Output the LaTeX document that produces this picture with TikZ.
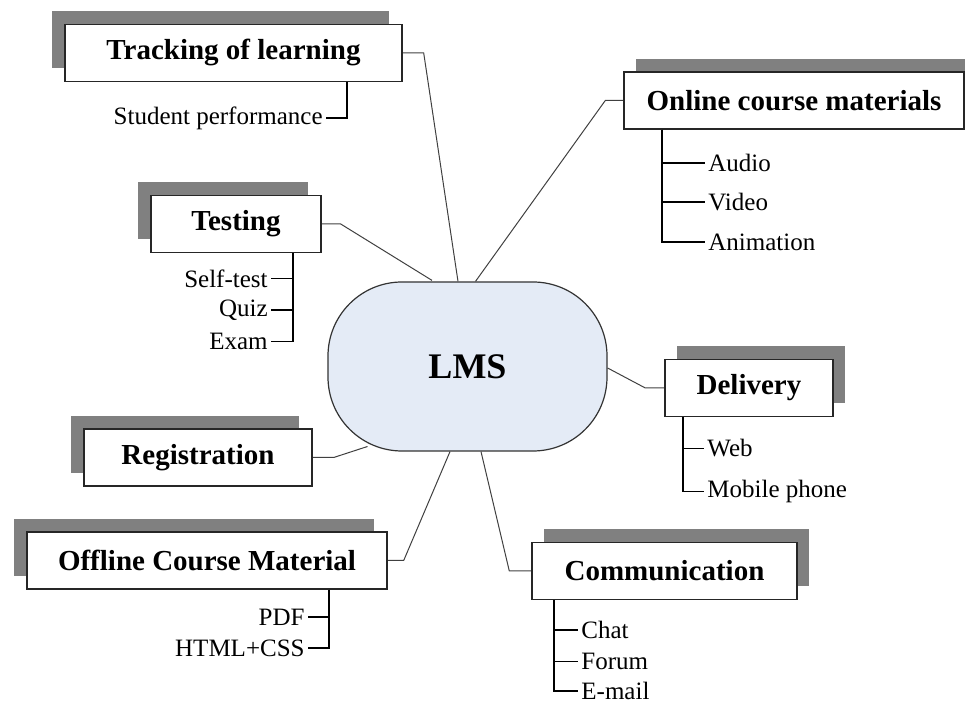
\documentclass[tikz,border=0pt]{standalone}
\usepackage{fontspec}
\setmainfont{Liberation Serif}
\usetikzlibrary{shadows,calc,backgrounds}
\definecolor{lmsblue}{RGB}{228,235,246}

\begin{document}
\begin{tikzpicture}[x=0.5pt,y=-0.5pt,
  topic/.style = {shape=rectangle, draw=black!85, line width=0.7pt, fill=white,
    minimum width=#1, minimum height=28.5pt, inner sep=0pt,
    font=\fontsize{14.5}{16}\selectfont\bfseries},
  shadowleft/.style = {drop shadow={shadow xshift=-6.5pt, shadow yshift=6.5pt, fill=black!50, opacity=1}},
  shadowright/.style = {drop shadow={shadow xshift=6pt, shadow yshift=6.5pt, fill=black!50, opacity=1}},
  hub/.style = {shape=rectangle, rounded corners=37pt, draw=black!80, line width=0.6pt,
    fill=lmsblue, minimum width=139.5pt, minimum height=84.5pt,
    font=\fontsize{18}{20}\selectfont\bfseries},
  item/.style = {inner sep=1.5pt, font=\fontsize{12.5}{14}\selectfont},
  link/.style = {draw=black!75, line width=0.5pt},
  twig/.style = {draw=black, line width=0.6pt}
  ]
  \useasboundingbox (0,0) rectangle (965,704);

  \node[hub] (lms) at (467.5,366.5) {LMS};

  \node[topic=168.5pt, shadowleft] (trk) at (233.5,53) {Tracking of learning};
  \node[topic=85pt, shadowleft] (tst) at (236,224) {Testing};
  \node[topic=114pt, shadowleft] (reg) at (198,457.5) {Registration};
  \node[topic=180pt, shadowleft] (off) at (207,560.5) {Offline Course Material};
  \node[topic=170pt, shadowright] (onl) at (794,100.5) {Online course materials};
  \node[topic=84pt, shadowright] (dlv) at (749,388) {Delivery};
  \node[topic=132.5pt, shadowright] (com) at (664.5,571) {Communication};

  \begin{scope}[on background layer]
    \draw[link] (trk.east) -- ++(21,0) -- ($(lms.north)+(-9.5,0)$);
    \draw[link] (tst.east) -- ++(19,0) -- ($(lms.north)+(-35.5,-1)$);
    \draw[link] (onl.west) -- ++(-18,0) -- ($(lms.north)+(8,0)$);
    \draw[link] (reg.east) -- ++(21,0) -- ($(lms.center)+(-100,80)$);
    \draw[link] (off.east) -- ++(16,0) -- ($(lms.south)+(-17.5,0)$);
    \draw[link] (dlv.west) -- ++(-19,0) -- ($(lms.east)+(0,1.5)$);
    \draw[link] (com.west) -- ++(-22,0) -- ($(lms.south)+(13.5,0)$);
  \end{scope}

  % sub items
  \node[item, anchor=east] (perf) at (326,118) {Student performance};
  \draw[twig] ($(trk.south)+(113.5,0)$) |- (perf.east);

  \node[item, anchor=east] (self) at (271,278.5) {Self-test};
  \node[item, anchor=east] (quiz) at (271,310) {Quiz};
  \node[item, anchor=east] (exam) at (271,341.5) {Exam};
  \coordinate (tstbar) at ($(tst.south)+(57,0)$);
  \foreach \i in {self,quiz,exam} \draw[twig] (tstbar) |- (\i.east);

  \node[item, anchor=west] (audio) at (705,163) {Audio};
  \node[item, anchor=west] (video) at (705,202) {Video};
  \node[item, anchor=west] (anim) at (705,242) {Animation};
  \coordinate (onlbar) at ($(onl.south)+(-132,0)$);
  \foreach \i in {audio,video,anim} \draw[twig] (onlbar) |- (\i.west);

  \node[item, anchor=east] (pdf) at (308,617) {PDF};
  \node[item, anchor=east] (html) at (308,648) {HTML+CSS};
  \coordinate (offbar) at ($(off.south)+(122,0)$);
  \foreach \i in {pdf,html} \draw[twig] (offbar) |- (\i.east);

  \node[item, anchor=west] (web) at (704,448.5) {Web};
  \node[item, anchor=west] (mobile) at (704,491.5) {Mobile phone};
  \coordinate (dlvbar) at ($(dlv.south)+(-66,0)$);
  \foreach \i in {web,mobile} \draw[twig] (dlvbar) |- (\i.west);

  \node[item, anchor=west] (chat) at (578,630) {Chat};
  \node[item, anchor=west] (forum) at (578,661.5) {Forum};
  \node[item, anchor=west] (email) at (578,691) {E-mail};
  \coordinate (combar) at ($(com.south)+(-110.5,0)$);
  \foreach \i in {chat,forum,email} \draw[twig] (combar) |- (\i.west);
\end{tikzpicture}
\end{document}
